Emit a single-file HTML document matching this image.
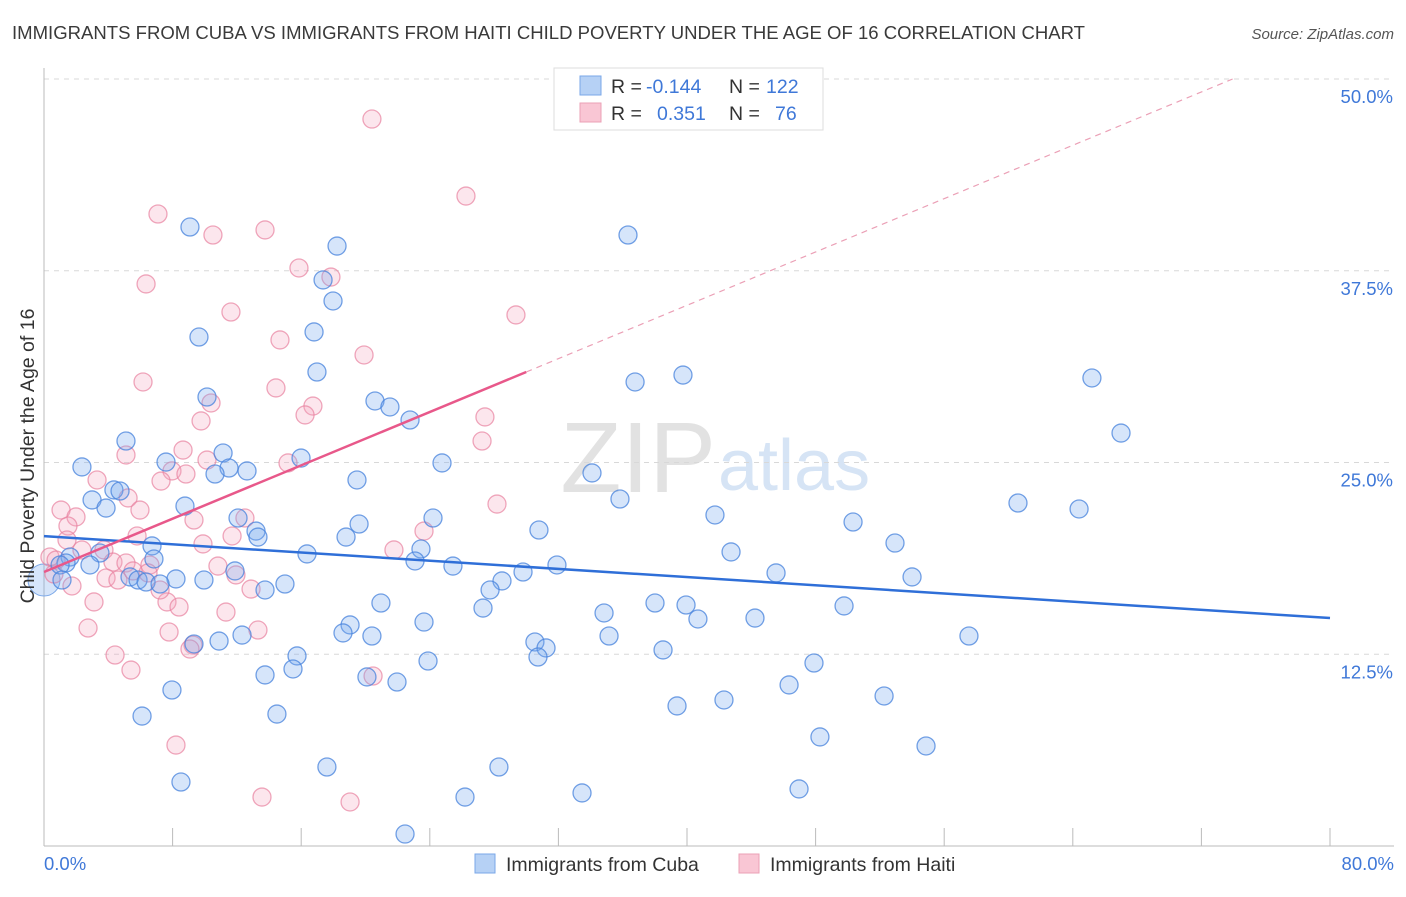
<!DOCTYPE html>
<html><head><meta charset="utf-8"><style>
body{margin:0;background:#fff;font-family:"Liberation Sans",sans-serif;}
svg text{font-family:"Liberation Sans",sans-serif;}
</style></head><body>
<svg id="chart" width="1406" height="892" xmlns="http://www.w3.org/2000/svg">
<text x="12" y="39" font-size="18.5" fill="#3a3a3a" textLength="1073" lengthAdjust="spacingAndGlyphs">IMMIGRANTS FROM CUBA VS IMMIGRANTS FROM HAITI CHILD POVERTY UNDER THE AGE OF 16 CORRELATION CHART</text>
<text x="1394" y="39" font-size="15" fill="#555" font-style="italic" text-anchor="end">Source: ZipAtlas.com</text>
<text x="716" y="492" font-size="100" fill="#e2e2e2" text-anchor="end" font-family="Liberation Serif">ZIP</text>
<text x="718" y="490" font-size="72" fill="#d6e4f5">atlas</text>
<g id="grid"></g>
<g id="axes"></g>
<g id="points"></g>
<g id="lines"></g>
<text transform="translate(34,456) rotate(-90)" font-size="19.5" fill="#333" text-anchor="middle">Child Poverty Under the Age of 16</text>
<g>
<rect x="554" y="68" width="269" height="62" fill="#fff" stroke="#ddd"/>
<rect x="580" y="76" width="21" height="19" fill="#b6d1f5" stroke="#7aa7e8"/>
<rect x="580" y="103" width="21" height="19" fill="#f9c6d4" stroke="#eba0b6"/>
<text x="611" y="93" font-size="19.5" fill="#333">R =</text>
<text x="646" y="93" font-size="19.5" fill="#3f78d8">-0.144</text>
<text x="729" y="93" font-size="19.5" fill="#333">N =</text>
<text x="766" y="93" font-size="19.5" fill="#3f78d8">122</text>
<text x="611" y="120" font-size="19.5" fill="#333">R =</text>
<text x="657" y="120" font-size="19.5" fill="#3f78d8">0.351</text>
<text x="729" y="120" font-size="19.5" fill="#333">N =</text>
<text x="775" y="120" font-size="19.5" fill="#3f78d8">76</text>
</g>
<g>
<rect x="475" y="854" width="20" height="19" fill="#b6d1f5" stroke="#7aa7e8"/>
<text x="506" y="871" font-size="19.5" fill="#333">Immigrants from Cuba</text>
<rect x="739" y="854" width="20" height="19" fill="#f9c6d4" stroke="#eba0b6"/>
<text x="770" y="871" font-size="19.5" fill="#333">Immigrants from Haiti</text>
</g>
</svg>
<script>
const cubaX=[9.08,18.23,36.33,17.36,17.98,9.64,16.8,16.98,36.77,39.75,65.19,10.14,20.59,21.52,22.77,67.0,5.1,11.14,7.59,2.36,11.51,10.64,12.63,24.76,15.99,19.47,34.09,4.35,4.73,2.99,3.86,8.77,35.83,60.59,64.39,41.74,12.07,24.2,50.33,19.6,13.19,18.79,30.79,13.31,6.72,52.94,1.62,3.48,1.37,1.0,2.86,6.84,16.36,23.45,42.74,23.08,25.44,31.91,5.35,5.85,6.35,8.21,7.22,9.95,11.88,14.99,13.75,29.8,28.49,27.75,45.54,54.0,1.12,20.96,38.01,39.94,34.84,27.31,49.77,19.04,23.64,40.68,44.23,12.32,10.89,18.6,20.4,35.15,57.54,9.33,30.54,31.23,15.74,38.51,30.73,23.89,15.49,13.75,20.09,21.96,47.9,46.35,52.26,7.96,42.3,39.38,6.1,14.49,54.87,48.27,17.6,28.3,8.52,46.97,33.47,26.19,22.46];
const cubaY=[40.35,39.11,39.83,36.9,35.53,33.18,33.51,30.9,30.25,30.7,30.51,29.27,29.01,28.62,27.77,26.92,26.4,25.62,25.03,24.71,24.64,24.25,24.45,24.97,25.29,23.86,24.32,23.21,23.14,22.56,22.03,22.16,22.62,22.36,21.97,21.58,21.38,21.38,21.12,20.99,20.53,20.14,20.6,20.14,19.56,19.75,18.84,19.1,18.45,18.32,18.32,18.71,19.04,19.36,19.17,18.58,18.25,18.32,17.54,17.34,17.21,17.41,17.08,17.34,17.93,17.08,16.69,17.86,17.28,16.69,17.8,17.54,17.34,15.84,15.84,15.71,15.19,15.51,15.65,14.41,14.6,14.8,14.86,13.75,13.36,13.89,13.69,13.69,13.69,13.17,13.3,12.91,12.39,12.78,12.32,12.06,11.54,11.15,11.02,10.69,11.93,10.5,9.78,10.17,9.52,9.13,8.47,8.6,6.52,7.11,5.15,5.15,4.17,3.72,3.46,3.19,0.78];
const haitiX=[20.4,26.25,7.09,10.51,13.75,15.86,17.85,6.35,11.63,29.36,14.68,19.91,6.16,14.43,10.39,16.73,16.24,9.77,27.43,27.25,5.1,8.65,7.96,7.28,8.83,10.14,15.18,3.3,5.23,1.06,1.99,5.97,9.33,28.18,12.5,1.49,11.7,5.79,1.43,9.89,3.73,21.77,23.64,0.37,2.36,0.75,4.29,5.1,6.59,10.82,0.62,3.86,4.6,5.54,6.47,11.94,1.74,12.88,3.11,7.65,8.4,11.32,2.74,7.78,13.31,9.27,9.08,4.42,5.41,20.47,8.21,13.56,19.04,7.22];
const haitiY=[47.39,42.37,41.2,39.83,40.16,37.68,37.09,36.64,34.81,34.62,32.99,32.01,30.25,29.86,28.88,28.68,28.1,27.71,27.97,26.4,25.49,25.81,24.45,23.79,24.25,25.16,24.97,23.86,22.69,21.9,21.45,21.9,21.25,22.29,21.38,20.86,20.21,20.21,19.95,19.69,19.3,19.3,20.53,18.84,19.3,18.64,18.51,18.45,18.32,18.25,17.73,17.47,17.34,17.93,17.8,17.67,16.95,16.75,15.91,15.91,15.58,15.25,14.21,13.95,14.08,13.1,12.84,12.45,11.47,11.08,6.58,3.19,2.87,16.69];
const yTicks=[12.5,25,37.5,50];
const yTickLabels=["12.5%","25.0%","37.5%","50.0%"];
const xTicks=[0,8,16,24,32,40,48,56,64,72,80];
const xEndLabels=["0.0%","80.0%"];
const cubaTrend=[20.2,14.86];
const haitiTrend=[17.86,30.9];

const NS="http://www.w3.org/2000/svg";
const X0=44,X1=1330,Y0=846,Y50=79;
const sx=v=>X0+v/80*(X1-X0);
const sy=v=>Y0-v/50*(Y0-Y50);
function mk(tag,attrs,parent){const e=document.createElementNS(NS,tag);for(const k in attrs)e.setAttribute(k,attrs[k]);parent.appendChild(e);return e;}
const grid=document.getElementById('grid'),axes=document.getElementById('axes'),pts=document.getElementById('points'),lines=document.getElementById('lines');
yTicks.forEach((t,i)=>{
 const g=mk('line',{x1:X0,x2:1394,y1:sy(t),y2:sy(t),stroke:'#d8d8d8','stroke-dasharray':'5,5'},grid);
 
 
 const tx=mk('text',{x:1393,y:sy(t)+24,'font-size':18.5,fill:'#3f78d8','text-anchor':'end'},axes);
 tx.textContent=yTickLabels[i];
 
 
});
const ya=mk('line',{x1:X0,x2:X0,y1:68,y2:846,stroke:'#bbb'},axes);


const xa=mk('line',{x1:X0,x2:1394,y1:846,y2:846,stroke:'#bbb'},axes);


xTicks.forEach(t=>{
 const l=mk('line',{x1:sx(t),x2:sx(t),y1:828,y2:846,stroke:'#bbb'},axes);
 
 
});
const xl0=mk('text',{x:44,y:870,'font-size':18.5,fill:'#3f78d8'},axes);xl0.textContent=xEndLabels[0];


const xl1=mk('text',{x:1394,y:870,'font-size':18.5,fill:'#3f78d8','text-anchor':'end'},axes);xl1.textContent=xEndLabels[1];


const big=mk('circle',{cx:sx(0),cy:sy(17.34),r:16,fill:'rgba(120,170,240,0.3)',stroke:'#7aa7e8'},pts);


haitiX.forEach((x,i)=>{
 const c=mk('circle',{cx:sx(x),cy:sy(haitiY[i]),r:9,fill:'rgba(245,165,190,0.28)',stroke:'rgba(232,130,160,0.7)','stroke-width':1.3},pts);
 
 
});
cubaX.forEach((x,i)=>{
 const c=mk('circle',{cx:sx(x),cy:sy(cubaY[i]),r:9,fill:'rgba(120,170,240,0.3)',stroke:'rgba(70,130,220,0.75)','stroke-width':1.3},pts);
 
 
});
const bl=mk('line',{x1:sx(0),y1:sy(cubaTrend[0]),x2:sx(80),y2:sy(cubaTrend[1]),stroke:'#2f6fd8','stroke-width':2.5},lines);


const slope=(haitiTrend[1]-haitiTrend[0])/30;
const xEnd=(50-haitiTrend[0])/slope;
const pd=mk('line',{x1:sx(30),y1:sy(haitiTrend[1]),x2:sx(xEnd),y2:sy(50),stroke:'#eba0b6','stroke-width':1.2,'stroke-dasharray':'6,5'},lines);


const pl=mk('line',{x1:sx(0),y1:sy(haitiTrend[0]),x2:sx(30),y2:sy(haitiTrend[1]),stroke:'#e8588a','stroke-width':2.5},lines);


</script>
</body></html>
